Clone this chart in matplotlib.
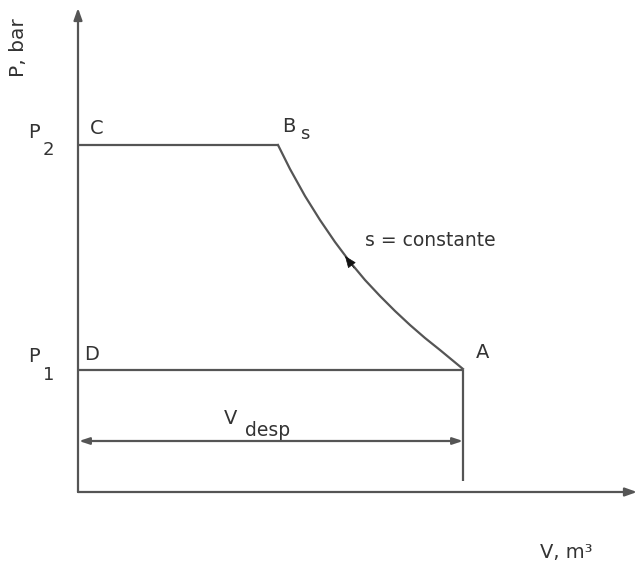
import matplotlib
matplotlib.use("Agg")
import matplotlib.pyplot as plt

# Data (V in arbitrary units from origin, P in arbitrary units)
P1 = 122
P2 = 347
V_B = 200
V_A = 385
curve_V = [200, 212, 227, 242, 257, 272, 287, 302, 317, 332, 347, 362, 385]
curve_P = [347, 323, 296, 272, 250, 230, 212, 196, 181, 167, 154, 142, 123]
V_max = 559
P_max = 484

LC = "#555555"
TC = "#333333"

fig = plt.figure(figsize=(6.38, 5.67), dpi=100)
ax = fig.add_axes([0, 0, 1, 1])
ax.set_xlim(-78, 560)
ax.set_ylim(-75, 492)
ax.axis("off")

lw = 1.6
# axes with arrows
ax.annotate("", xy=(0, P_max), xytext=(0, 0),
            arrowprops=dict(arrowstyle="-|>,head_length=0.7,head_width=0.25", color=LC, lw=lw, shrinkA=0, shrinkB=0))
ax.annotate("", xy=(V_max, 0), xytext=(0, 0),
            arrowprops=dict(arrowstyle="-|>,head_length=0.7,head_width=0.25", color=LC, lw=lw, shrinkA=0, shrinkB=0))

# cycle lines
ax.plot([0, V_B], [P2, P2], color=LC, lw=lw, solid_capstyle="butt")
ax.plot(curve_V, curve_P, color=LC, lw=lw, solid_joinstyle="round")
ax.plot([0, V_A], [P1, P1], color=LC, lw=lw, solid_capstyle="butt")
ax.plot([V_A, V_A], [P1, 11], color=LC, lw=lw, solid_capstyle="butt")

# arrow on curve (pointing toward B)
ax.annotate("", xy=(267, 236), xytext=(276, 224),
            arrowprops=dict(arrowstyle="-|>,head_length=0.75,head_width=0.3", color="#111111", lw=0.5, shrinkA=0, shrinkB=0))

# displacement double arrow
ax.annotate("", xy=(1, 51), xytext=(V_A, 51),
            arrowprops=dict(arrowstyle="<|-|>,head_length=0.6,head_width=0.2", color=LC, lw=lw, shrinkA=0, shrinkB=0))

fs = 14
def T(x, y, s, size=fs, **kw):
    ax.text(x - 78, 492 - y, s, fontsize=size, color=TC, ha="center", va="center", **kw)

T(18, 48, "P, bar", rotation=90, size=14.5)
T(34, 132, "P")
T(48, 150, "2", size=13)
T(34, 357, "P")
T(49, 375, "1", size=13)
T(97, 128, "C")
T(92, 354, "D")
T(289, 126, "B")
T(305, 134, "s", size=13)
T(483, 353, "A")
T(430, 240, "s = constante", size=13.5)
T(231, 419, "V")
T(268, 431, "desp", size=13.5)
T(566, 552, "V, m³", size=14)

fig.savefig("out.png", dpi=100)
